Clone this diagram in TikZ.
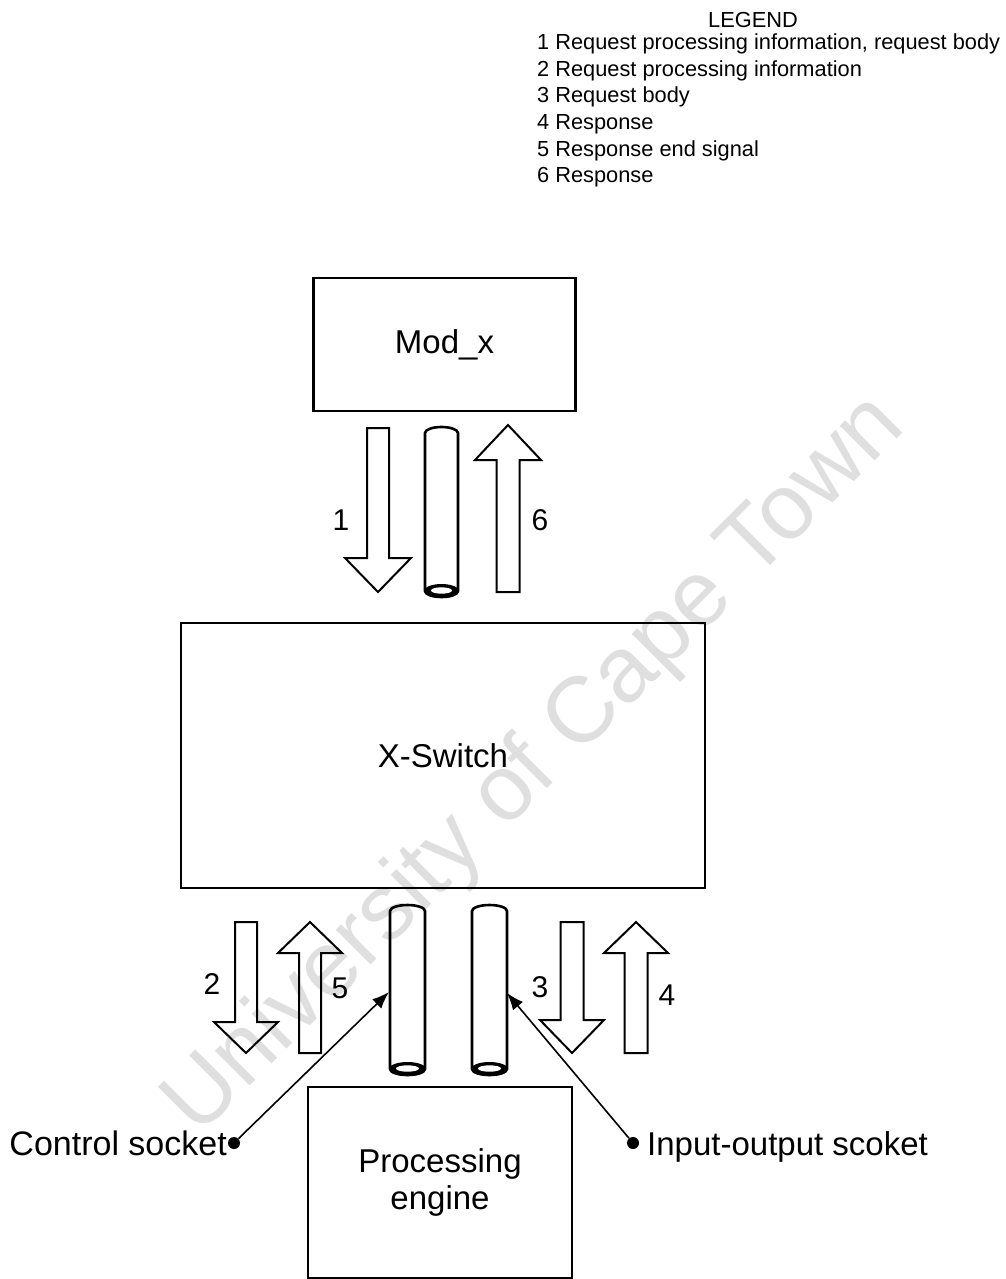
\documentclass[tikz,border=0pt]{standalone}
\usepackage{fontspec}
\setmainfont{Liberation Sans}
\usetikzlibrary{arrows.meta}
\newcommand\blkarrow[6]{%
  \draw[blk] (#1-#5,#2) -- (#1+#5,#2) -- (#1+#5,#3) -- (#1+#6,#3) -- (#1,#4)
    -- (#1-#6,#3) -- (#1-#5,#3) -- cycle;}
\newcommand\tube[4]{% left x, right x, top y, bottom y
  \draw[tubeline] (#1,#3+6) arc[start angle=180,end angle=360,x radius={(#2-#1)/2},y radius=6]
    -- (#2,#4-6) arc[start angle=0,end angle=180,x radius={(#2-#1)/2},y radius=6] -- cycle;
  \fill[black] ({(#1+#2)/2},#4-6) ellipse[x radius={(#2-#1)/2+1},y radius=7];
  \fill[white] ({(#1+#2)/2},#4-6.5) ellipse[x radius={(#2-#1)/2-6},y radius=3.2];}
\begin{document}
\begin{tikzpicture}[x=1pt,y=-1pt,
  box/.style={draw,line width=2.8pt,inner sep=0pt,align=center,font=\fontsize{33}{37}\selectfont},
  blk/.style={draw,line width=2pt,line join=miter},
  tubeline/.style={draw,line width=2.6pt},
  lbl/.style={inner sep=0pt,font=\fontsize{30}{34}\selectfont},
  leg/.style={inner sep=0pt,anchor=base west,font=\fontsize{21.8}{26.6}\selectfont},
  sock/.style={inner sep=0pt,font=\fontsize{33}{37}\selectfont},
  dotnode/.style={circle,fill=black,minimum size=12pt,inner sep=0pt},
  sockline/.style={line width=1.6pt,-{Latex[length=17pt,width=13pt]}},
  wm/.style={inner sep=0pt,rotate=45,text=gray!25,font=\fontsize{93}{100}\selectfont}]
\useasboundingbox (0,0) rectangle (1006,1279);
% watermark
\node[wm] (wm) at (536,766) {University of Cape Town};
% legend
\node[inner sep=0pt,anchor=base,font=\fontsize{21.8}{26.6}\selectfont] (legt) at (753,28) {LEGEND};
\node[leg] (l1) at (537,50) {1 Request processing information, request body};
\node[leg] (l2) at (537,76.5) {2 Request processing information};
\node[leg] (l3) at (537,103) {3 Request body};
\node[leg] (l4) at (537,129.5) {4 Response};
\node[leg] (l5) at (537,156) {5 Response end signal};
\node[leg] (l6) at (537,182.5) {6 Response};
% boxes
\node[box,minimum width=262pt,minimum height=133pt] (modx) at (444.5,344.5) {Mod\_x};
\node[box,minimum width=524pt,minimum height=265pt] (xsw) at (443,755.5) {X-Switch};
\node[box,minimum width=264pt,minimum height=191pt] (pe) at (440,1182.5) {Processing\\engine};
% top arrows and tube
\blkarrow{378}{428}{558}{592}{11}{33}
\blkarrow{508}{592}{460}{425}{11.5}{33}
\tube{425}{458}{427}{597}
\node[lbl] (n1) at (341,520) {1};
\node[lbl] (n6) at (540,520) {6};
% bottom arrows and tubes
\blkarrow{246}{922}{1022}{1053}{11}{32}
\blkarrow{310}{1053}{953}{922}{11}{32}
\blkarrow{572}{922}{1020}{1053}{11.5}{32}
\blkarrow{636}{1053}{953}{922}{11.5}{32}
\tube{390}{425}{905}{1075}
\tube{472}{507}{905}{1075}
\node[lbl] (n2) at (212,984) {2};
\node[lbl] (n5) at (340,988) {5};
\node[lbl] (n3) at (540,987) {3};
\node[lbl] (n4) at (667,995) {4};
% sockets
\coordinate (ctip) at (389,992);
\coordinate (iotip) at (507,993);
\node[dotnode] (cdot) at (234,1143) {};
\node[dotnode] (iodot) at (633,1143) {};
\node[sock,anchor=base east,font=\fontsize{34}{38}\selectfont] (ctext) at (227,1155) {Control socket};
\node[sock,anchor=base west] (iotext) at (647,1155) {Input-output scoket};
\draw[sockline] (cdot) -- (ctip);
\draw[sockline] (iodot) -- (iotip);
\end{tikzpicture}
\end{document}
